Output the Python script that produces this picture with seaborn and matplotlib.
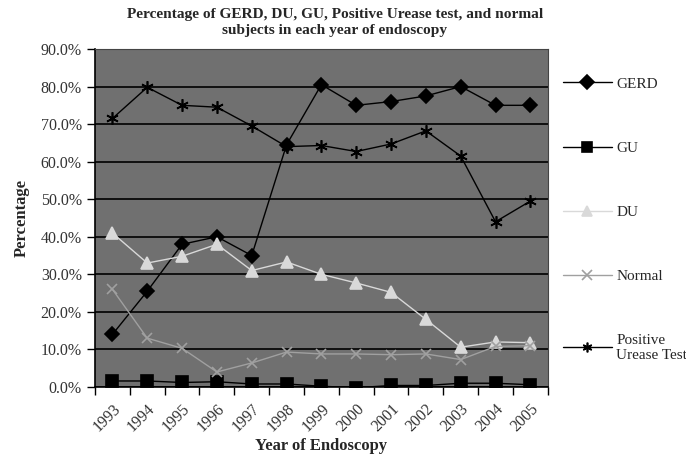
import numpy as np
import pandas as pd
import matplotlib
matplotlib.use("Agg")
import matplotlib.pyplot as plt
import seaborn as sns
from matplotlib.ticker import FixedLocator, PercentFormatter

sns.set_theme(style="ticks")
plt.rcParams['font.family'] = ['Liberation Serif', 'DejaVu Serif']

years = ["1993", "1994", "1995", "1996", "1997", "1998", "1999",
         "2000", "2001", "2002", "2003", "2004", "2005"]
gerd = [14.0, 25.5, 38.0, 40.0, 35.0, 64.5, 80.5, 75.0, 76.0, 77.5, 80.0, 75.0, 75.0]
gu = [1.6, 1.6, 1.2, 1.4, 0.8, 0.8, 0.2, -0.2, 0.4, 0.4, 1.0, 1.0, 0.6]
du = [41.0, 33.0, 34.8, 38.0, 31.0, 33.3, 30.0, 27.7, 25.2, 18.0, 10.6, 12.0, 11.8]
normal = [26.0, 13.0, 10.3, 4.0, 6.4, 9.3, 8.8, 8.8, 8.6, 8.8, 7.3, 10.8, 11.0]
urease = [71.5, 79.8, 75.0, 74.5, 69.5, 64.0, 64.3, 62.7, 64.7, 68.2, 61.5, 44.0, 49.5]

series = {
    "GERD": (gerd, "black", "D", 7),
    "GU": (gu, "black", "s", 8),
    "DU": (du, "#d9d9d9", "^", 9),
    "Normal": (normal, "#a0a0a0", "x", 7),
    "Positive\nUrease Test": (urease, "black", (6, 2, 0), 9),
}

x = np.arange(len(years))

fig = plt.figure(figsize=(6.86, 4.54), dpi=100)
ax = fig.add_axes([0.1385, 0.1476, 0.660, 0.7445])
ax.set_facecolor("#707070")

for name, (vals, col, mk, ms) in series.items():
    df = pd.DataFrame({"x": x, "y": vals})
    sns.lineplot(data=df, x="x", y="y", ax=ax, color=col, marker=mk,
                 markersize=ms, linewidth=1.0, label=name,
                 markeredgecolor=col, markeredgewidth=1.2)

ax.set_xlim(-0.5, len(years) - 0.5)
ax.set_ylim(0, 90)
ax.yaxis.set_major_locator(FixedLocator(np.arange(0, 91, 10)))
ax.yaxis.set_major_formatter(PercentFormatter(decimals=1))
ax.grid(axis="y", color="black", linewidth=1.2)
ax.set_axisbelow(True)

# ticks on category boundaries, labels centred on categories
ax.xaxis.set_major_locator(FixedLocator(np.arange(-0.5, len(years), 1)))
ax.xaxis.set_minor_locator(FixedLocator(x))
ax.set_xticklabels([])
ax.set_xticklabels(years, minor=True, rotation=45, ha="right",
                   rotation_mode="anchor", fontsize=11.5)
ax.tick_params(axis="x", which="minor", length=0, pad=10)
ax.tick_params(axis="x", which="major", length=6, color="black", width=1)
ax.tick_params(axis="y", length=6, color="black", width=1, labelsize=11.5,
               labelcolor="#333333")
for lbl in ax.get_xticklabels(minor=True):
    lbl.set_color("#333333")

for s in ["top", "right"]:
    ax.spines[s].set_color("#444444")
    ax.spines[s].set_linewidth(0.8)
for s in ["left", "bottom"]:
    ax.spines[s].set_color("black")
    ax.spines[s].set_linewidth(1.2)

ax.set_xlabel("Year of Endoscopy", fontsize=12, fontweight="bold", labelpad=2)
ax.set_ylabel("Percentage", fontsize=12, fontweight="bold", labelpad=8)
fig.suptitle("Percentage of GERD, DU, GU, Positive Urease test, and normal\nsubjects in each year of endoscopy",
             fontsize=11.1, fontweight="bold", y=0.983, x=0.488, linespacing=1.35)

leg = ax.legend(loc="upper left", bbox_to_anchor=(1.02, 0.935), frameon=False,
                labelspacing=3.3, handlelength=3.2, fontsize=11,
                borderaxespad=0, handletextpad=0.3)
for h in leg.legend_handles:
    h.set_markersize(7)

fig.savefig("out.png", dpi=100, facecolor="white")
